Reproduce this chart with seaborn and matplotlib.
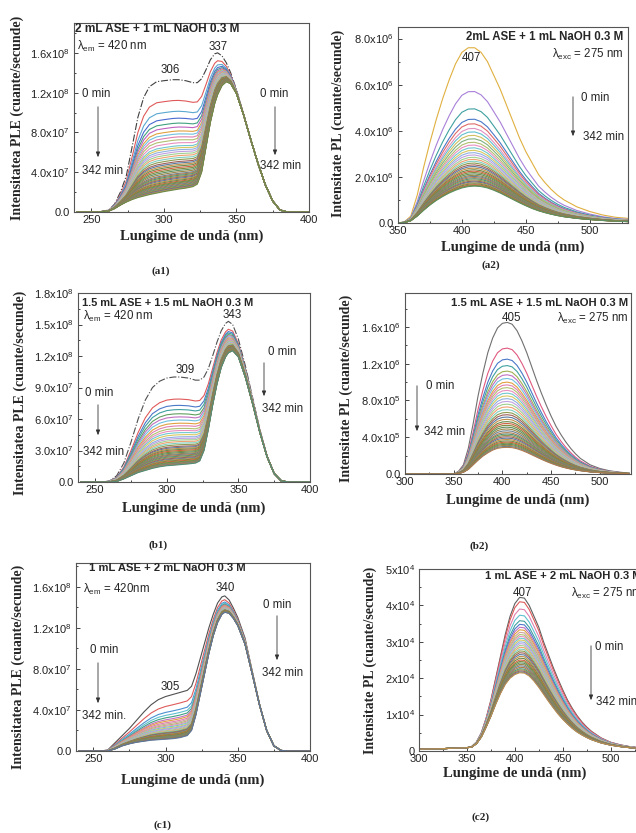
import numpy as np
import pandas as pd
import matplotlib
matplotlib.use('Agg')
import matplotlib.pyplot as plt
import seaborn as sns
from matplotlib.ticker import MultipleLocator

W, H = 636, 833
sns.set_style('white')
plt.rcParams['font.family'] = ['Liberation Sans', 'DejaVu Sans']
plt.rcParams['mathtext.default'] = 'regular'

# ---------------- data ----------------
# (a1) PLE, units 1e7
a1_wl = [240, 255, 262, 266, 270, 274, 278, 282, 286, 290, 295, 300, 306, 310, 315, 320, 323, 326, 329, 332,
         335, 337, 340, 343, 346, 350, 355, 360, 365, 370, 375, 380, 385, 390, 400]
a1_top = [0, 0, 0.2, 0.8, 2.0, 3.6, 6.5, 9.5, 11.5, 12.6, 13.1, 13.2, 13.3, 13.3, 13.2, 13.0, 13.0, 13.4, 14.3, 15.3,
          15.9, 16.0, 15.7, 15.0, 14.0, 12.3, 9.8, 7.2, 4.8, 2.7, 1.1, 0.2, 0, 0, 0]
a1_bot = [0, 0, 0.1, 0.35, 0.7, 1.0, 1.25, 1.45, 1.6, 1.75, 1.9, 2.05, 2.2, 2.3, 2.4, 2.55, 2.8, 4.0, 6.5, 9.0,
          10.9, 11.8, 12.7, 13.1, 12.9, 11.9, 9.7, 7.2, 4.8, 2.7, 1.1, 0.2, 0, 0, 0]
a1_levels = [13.3, 11.2, 10.1, 9.4, 8.9, 8.5, 8.1, 7.8, 7.5, 7.2, 6.9, 6.6, 6.4, 6.2, 6.0, 5.8, 5.6, 5.4, 5.2, 5.0,
             4.85, 4.7, 4.55, 4.4, 4.25, 4.1, 3.95, 3.8, 3.7, 3.6, 3.5, 3.4, 3.3, 3.2, 3.1, 3.0, 2.92, 2.84, 2.76,
             2.68, 2.6, 2.52, 2.45, 2.38, 2.32, 2.26, 2.2]

# (a2) PL, units 1e6
a2_wl = [350, 355, 360, 365, 370, 375, 380, 385, 390, 395, 400, 405, 410, 415, 420, 425, 430, 435, 440, 445,
         450, 455, 460, 465, 470, 475, 480, 490, 500, 510, 520, 530]
a2_top = [0.0, 0.05, 0.3, 1.2, 2.4, 3.5, 4.5, 5.4, 6.2, 6.9, 7.4, 7.6, 7.6, 7.4, 7.0, 6.4, 5.8, 5.1, 4.4, 3.7,
          3.1, 2.6, 2.1, 1.75, 1.45, 1.2, 1.0, 0.7, 0.5, 0.35, 0.25, 0.2]
a2_bot = [0, 0.02, 0.1, 0.3, 0.55, 0.78, 0.98, 1.15, 1.3, 1.42, 1.52, 1.58, 1.6, 1.58, 1.52, 1.42, 1.3, 1.16, 1.02,
          0.88, 0.75, 0.63, 0.53, 0.45, 0.38, 0.32, 0.27, 0.2, 0.15, 0.11, 0.08, 0.06]
a2_levels = [7.6, 5.7, 4.95, 4.5, 4.3, 4.1, 3.95, 3.8, 3.65, 3.5, 3.38, 3.26, 3.15, 3.05, 2.95, 2.85, 2.76, 2.68,
             2.6, 2.52, 2.45, 2.38, 2.31, 2.25, 2.19, 2.13, 2.07, 2.02, 1.97, 1.92, 1.87, 1.82, 1.78, 1.74, 1.7,
             1.66, 1.63, 1.6]

# (b1) PLE, units 1e7
b1_wl = [240, 255, 260, 265, 270, 275, 280, 285, 290, 295, 300, 305, 309, 315, 320, 323, 326, 329, 332, 335,
         338, 341, 343, 346, 350, 355, 360, 365, 370, 375, 380, 385, 400]
b1_top = [0, 0, 0.1, 0.6, 1.8, 3.8, 6.0, 7.8, 9.0, 9.6, 9.9, 10.0, 10.0, 9.9, 9.7, 9.7, 10.0, 10.8, 12.0, 13.3,
          14.4, 15.1, 15.3, 15.0, 13.6, 11.0, 8.0, 5.0, 2.5, 0.8, 0.1, 0, 0]
b1_bot = [0, 0, 0, 0.05, 0.3, 0.6, 0.9, 1.1, 1.3, 1.45, 1.55, 1.6, 1.65, 1.72, 1.8, 2.0, 3.0, 5.0, 7.3, 9.3,
          10.9, 11.9, 12.3, 12.5, 11.9, 9.9, 7.4, 4.7, 2.4, 0.8, 0.1, 0, 0]
b1_levels = [10.0, 7.9, 7.3, 6.9, 6.5, 6.2, 5.9, 5.6, 5.35, 5.1, 4.9, 4.7, 4.5, 4.3, 4.15, 4.0, 3.85, 3.7, 3.55,
             3.4, 3.3, 3.2, 3.1, 3.0, 2.9, 2.8, 2.7, 2.62, 2.54, 2.46, 2.38, 2.3, 2.22, 2.15, 2.08, 2.01, 1.94,
             1.88, 1.82, 1.76, 1.7, 1.65]

# (b2) PL, units 1e5
b2_wl = [300, 340, 350, 355, 360, 365, 370, 375, 380, 385, 390, 395, 400, 405, 410, 415, 420, 425, 430, 435,
         440, 445, 450, 455, 460, 465, 470, 475, 480, 490, 500, 510, 520, 530]
b2_top = [0, 0, 0, 0.3, 1.0, 2.8, 5.5, 8.5, 11.0, 13.2, 14.8, 15.9, 16.4, 16.5, 16.3, 15.6, 14.5, 13.2, 11.7, 10.2,
          8.8, 7.5, 6.3, 5.2, 4.3, 3.5, 2.8, 2.2, 1.7, 1.0, 0.6, 0.35, 0.2, 0.1]
b2_bot = [0, 0, 0, 0.05, 0.2, 0.5, 1.0, 1.5, 1.95, 2.3, 2.6, 2.8, 2.88, 2.9, 2.87, 2.75, 2.57, 2.35, 2.1, 1.85,
          1.6, 1.37, 1.16, 0.97, 0.8, 0.66, 0.54, 0.44, 0.36, 0.23, 0.15, 0.1, 0.06, 0.04]
b2_levels = [16.5, 13.7, 12.5, 11.8, 11.2, 10.8, 10.4, 10.0, 9.7, 9.4, 9.1, 8.8, 8.5, 8.2, 7.9, 7.6, 7.3, 7.0,
             6.7, 6.45, 6.2, 5.95, 5.7, 5.5, 5.3, 5.1, 4.9, 4.7, 4.5, 4.35, 4.2, 4.05, 3.9, 3.75, 3.6, 3.47, 3.35,
             3.23, 3.12, 3.0, 2.9]

# (c1) PLE, units 1e7
c1_wl = [240, 255, 260, 265, 270, 275, 280, 285, 290, 295, 300, 305, 310, 315, 318, 321, 324, 327, 330, 333,
         336, 339, 341, 344, 347, 350, 355, 360, 365, 370, 375, 380, 385, 400]
c1_top = [0, 0, 0.1, 0.8, 1.5, 2.2, 3.0, 3.8, 4.5, 5.0, 5.3, 5.5, 5.7, 5.9, 6.3, 7.5, 9.0, 10.5, 12.0, 13.3,
          14.4, 15.0, 15.1, 14.7, 13.9, 13.0, 11.0, 7.8, 4.6, 2.0, 0.5, 0.05, 0, 0]
c1_bot = [0, 0, 0, 0.2, 0.5, 0.7, 0.85, 0.95, 1.05, 1.1, 1.15, 1.2, 1.3, 1.5, 2.0, 3.5, 5.5, 7.5, 9.5, 11.2,
          12.5, 13.3, 13.5, 13.4, 12.9, 12.2, 10.4, 7.5, 4.5, 2.0, 0.5, 0.05, 0, 0]
c1_levels = [5.5, 4.5, 3.9, 3.6, 3.35, 3.15, 3.0, 2.85, 2.72, 2.6, 2.5, 2.4, 2.3, 2.22, 2.14, 2.06, 1.98, 1.92,
             1.86, 1.8, 1.74, 1.68, 1.63, 1.58, 1.53, 1.48, 1.44, 1.4, 1.36, 1.32, 1.28, 1.24, 1.2]

# (c2) PL, units 1e3
c2_wl = [300, 320, 340, 350, 355, 360, 365, 370, 375, 380, 385, 390, 395, 400, 405, 410, 415, 420, 425, 430,
         435, 440, 445, 450, 455, 460, 465, 470, 475, 480, 490, 500, 510, 520, 530, 540]
c2_top = [0.5, 0.6, 0.8, 0.9, 1.2, 2.5, 5.0, 9.0, 14.0, 20.0, 26.0, 32.0, 37.0, 40.5, 42.2, 42.0, 40.0, 37.0, 34.0,
          30.0, 26.5, 23.0, 19.8, 16.8, 14.0, 11.7, 9.7, 8.0, 6.6, 5.4, 3.6, 2.4, 1.7, 1.2, 0.9, 0.7]
c2_bot = [0.5, 0.6, 0.8, 0.9, 1.1, 2.0, 3.8, 6.5, 9.5, 12.8, 15.8, 18.3, 20.0, 21.0, 21.5, 21.4, 20.6, 19.2, 17.5,
          15.6, 13.7, 11.9, 10.2, 8.7, 7.4, 6.2, 5.2, 4.4, 3.7, 3.1, 2.2, 1.6, 1.2, 0.9, 0.7, 0.5]
c2_levels = [42.2, 41.0, 39.0, 37.3, 35.8, 34.8, 34.0, 33.3, 32.6, 32.0, 31.5, 31.0, 30.5, 30.0, 29.5, 29.0, 28.5,
             28.0, 27.5, 27.0, 26.5, 26.0, 25.5, 25.0, 24.6, 24.2, 23.8, 23.4, 23.0, 22.6, 22.3, 22.0, 21.7, 21.5]

MID = ['#e890c0', '#70c8d0', '#d8c860', '#90b0e0', '#c0a0e0', '#a0d090', '#f0a070', '#80d0c0', '#d0a0a0', '#b0c070']
DENSE = ['#7f8a3c', '#5e8f62', '#9a8546', '#6d7f8f', '#b07a4a', '#4f8f78', '#8e9a50', '#a0605a', '#5a7aa0',
         '#c09048', '#6a8a4a', '#d06040']

fig = plt.figure(figsize=(W / 100, H / 100), dpi=100)
fig.patch.set_facecolor('white')


def add_ax(l, t, r, b):
    return fig.add_axes([l / W, 1 - b / H, (r - l) / W, (b - t) / H])


def ftext(x, y, s, **kw):
    kw.setdefault('fontsize', 8)
    kw.setdefault('va', 'center')
    return fig.text(x / W, 1 - y / H, s, **kw)


def farrow(x, y0, y1):
    fig.add_artist(matplotlib.patches.FancyArrowPatch((x / W, 1 - y0 / H), (x / W, 1 - y1 / H),
                                                      transform=fig.transFigure,
                                                      arrowstyle='-|>,head_length=3,head_width=1.2',
                                                      color='#333333', lw=0.6, mutation_scale=1))


def draw(ax, wl, top, bot, levels, scale, head, first_style='-'):
    top = np.asarray(top, float)
    bot = np.asarray(bot, float)
    rt, rb = levels[0], levels[-1]
    frames = []
    for k, v in enumerate(levels):
        f = (v - rb) / (rt - rb)
        frames.append(pd.DataFrame({'wl': wl, 'I': (bot + f * (top - bot)) * scale, 'curve': 'c%02d' % k}))
    df = pd.concat(frames, ignore_index=True)
    pal = []
    for k in range(len(levels)):
        if k < len(head):
            pal.append(head[k])
        elif k < 18:
            pal.append(MID[k % len(MID)])
        else:
            pal.append(DENSE[k % len(DENSE)])
    sns.lineplot(data=df, x='wl', y='I', hue='curve', palette=pal, legend=False, estimator=None,
                 sort=False, ax=ax, linewidth=0.8)
    if ax.lines:
        ax.lines[0].set_linestyle(first_style)


def style(ax, xlim, xt, ylim, yt, ylab, yminor):
    ax.set_xlim(*xlim)
    ax.set_ylim(*ylim)
    ax.set_xticks(xt)
    ax.set_xticklabels([str(v) for v in xt])
    ax.xaxis.set_minor_locator(MultipleLocator(25))
    ax.set_yticks(yt)
    ax.set_yticklabels(ylab)
    ax.yaxis.set_minor_locator(MultipleLocator(yminor))
    ax.tick_params(which='both', direction='in', top=False, right=False, left=True, bottom=True,
                   colors='#444444', labelcolor='#222222', labelsize=8, width=0.7)
    ax.tick_params(which='major', length=3)
    ax.tick_params(which='minor', length=1.5)
    ax.tick_params(axis='x', pad=2.5)
    ax.tick_params(axis='y', pad=3)
    for sp in ax.spines.values():
        sp.set_color('#555555')
        sp.set_linewidth(0.8)
    ax.set_xlabel('')
    ax.set_ylabel('')
    ax.set_facecolor('white')


serif = dict(family=['Liberation Serif', 'DejaVu Serif'], fontweight='bold')
XL = 10.5
YL = 10

# ---------------- (a1) ----------------
ax = add_ax(74, 23, 309, 212)
draw(ax, a1_wl, a1_top, a1_bot, a1_levels, 1e7,
     ['#404040', '#e05a5a', '#5aa8d0', '#4a6ad0', '#40a080', '#c060c0', '#e0a040', '#70c0e0', '#e080b0'], '-.')
style(ax, (238, 400), [250, 300, 350, 400], (0, 1.9e8), [0, 4e7, 8e7, 1.2e8, 1.6e8],
      ['0.0', '4.0x10$^{7}$', '8.0x10$^{7}$', '1.2x10$^{8}$', '1.6x10$^{8}$'], 2e7)
ftext(75, 29, '2 mL ASE + 1 mL NaOH 0.3 M', fontweight='bold', fontsize=8.6)
ftext(77, 46, 'λ$_{em}$ = 420 nm', fontsize=8.3)
ftext(170, 70, '306', ha='center', fontsize=8.3)
ftext(218, 47, '337', ha='center', fontsize=8.3)
ftext(82, 94, '0 min', fontsize=8.3)
farrow(98, 104, 160)
ftext(82, 171, '342 min', fontsize=8.3)
ftext(260, 94, '0 min', fontsize=8.3)
farrow(275, 104, 158)
ftext(260, 166, '342 min', fontsize=8.3)
ftext(192, 236, 'Lungime de undă (nm)', ha='center', fontsize=XL, **serif)
ftext(17, 118, 'Intensitatea PLE (cuante/secunde)', ha='center', rotation=90, fontsize=YL, **serif)
ftext(161, 271, '(a1)', ha='center', fontsize=8, **serif)

# ---------------- (a2) ----------------
ax = add_ax(398, 27, 628, 223)
draw(ax, a2_wl, a2_top, a2_bot, a2_levels, 1e6,
     ['#e0b040', '#a880d8', '#3fa0a0', '#4a78c8', '#e06a6a', '#e090c0', '#60c0d0', '#d0c060', '#80b080'])
style(ax, (350, 530), [350, 400, 450, 500], (0, 8.5e6), [0, 2e6, 4e6, 6e6, 8e6],
      ['0.0', '2.0x10$^{6}$', '4.0x10$^{6}$', '6.0x10$^{6}$', '8.0x10$^{6}$'], 1e6)
ftext(623, 37, '2mL ASE + 1 mL NaOH 0.3 M', ha='right', fontweight='bold', fontsize=8.3)
ftext(623, 54, 'λ$_{exc}$ = 275 nm', ha='right', fontsize=8.3)
ftext(471, 58, '407', ha='center', fontsize=8.3)
ftext(581, 98, '0 min', fontsize=8.3)
farrow(573, 94, 139)
ftext(583, 137, '342 min', fontsize=8.3)
ftext(513, 247, 'Lungime de undă (nm)', ha='center', fontsize=XL, **serif)
ftext(338, 123, 'Intensitate PL (cuante/secunde)', ha='center', rotation=90, fontsize=YL, **serif)
ftext(491, 265, '(a2)', ha='center', fontsize=8, **serif)

# ---------------- (b1) ----------------
ax = add_ax(78, 293, 310, 482)
draw(ax, b1_wl, b1_top, b1_bot, b1_levels, 1e7,
     ['#505050', '#e05a5a', '#4a78c8', '#3fa0a0', '#60a060', '#c070c0', '#70c0e0', '#e0a040', '#e080b0'], '-.')
style(ax, (238, 400), [250, 300, 350, 400], (0, 1.8e8), [0, 3e7, 6e7, 9e7, 1.2e8, 1.5e8, 1.8e8],
      ['0.0', '3.0x10$^{7}$', '6.0x10$^{7}$', '9.0x10$^{7}$', '1.2x10$^{8}$', '1.5x10$^{8}$', '1.8x10$^{8}$'],
      1.5e7)
ftext(82, 303, '1.5 mL ASE + 1.5 mL NaOH 0.3 M', fontweight='bold', fontsize=7.9)
ftext(83, 316, 'λ$_{em}$ = 420 nm', fontsize=8.3)
ftext(232, 315, '343', ha='center', fontsize=8.3)
ftext(185, 370, '309', ha='center', fontsize=8.3)
ftext(85, 393, '0 min', fontsize=8.3)
farrow(98, 402, 438)
ftext(83, 452, '342 min', fontsize=8.3)
ftext(268, 352, '0 min', fontsize=8.3)
farrow(264, 360, 399)
ftext(262, 409, '342 min', fontsize=8.3)
ftext(194, 508, 'Lungime de undă (nm)', ha='center', fontsize=XL, **serif)
ftext(20, 393, 'Intensitatea PLE (cuante/secunde)', ha='center', rotation=90, fontsize=YL, **serif)
ftext(158, 545, '(b1)', ha='center', fontsize=8, **serif)

# ---------------- (b2) ----------------
ax = add_ax(405, 293, 631, 474)
draw(ax, b2_wl, b2_top, b2_bot, b2_levels, 1e5,
     ['#707070', '#e05a80', '#4a78c8', '#3fa0a0', '#a0b050', '#c070c0', '#70c0e0', '#e0a040', '#e080b0'])
style(ax, (300, 532), [300, 350, 400, 450, 500], (0, 1.97e6), [0, 4e5, 8e5, 1.2e6, 1.6e6],
      ['0.0', '4.0x10$^{5}$', '8.0x10$^{5}$', '1.2x10$^{6}$', '1.6x10$^{6}$'], 2e5)
ftext(628, 303, '1.5 mL ASE + 1.5 mL NaOH 0.3 M', ha='right', fontweight='bold', fontsize=8.2)
ftext(628, 318, 'λ$_{exc}$ = 275 nm', ha='right', fontsize=8.3)
ftext(511, 318, '405', ha='center', fontsize=8.3)
ftext(426, 386, '0 min', fontsize=8.3)
farrow(417, 383, 434)
ftext(424, 432, '342 min', fontsize=8.3)
ftext(518, 500, 'Lungime de undă (nm)', ha='center', fontsize=XL, **serif)
ftext(346, 388, 'Intensitate PL (cuante/secunde)', ha='center', rotation=90, fontsize=YL, **serif)
ftext(479, 546, '(b2)', ha='center', fontsize=8, **serif)

# ---------------- (c1) ----------------
ax = add_ax(76, 563, 310, 751)
draw(ax, c1_wl, c1_top, c1_bot, c1_levels, 1e7,
     ['#505050', '#e05a5a', '#4a90d0', '#60c0d0', '#40a080', '#c070c0', '#e0a040', '#e080b0'])
style(ax, (238, 400), [250, 300, 350, 400], (0, 1.83e8), [0, 4e7, 8e7, 1.2e8, 1.6e8],
      ['0.0', '4.0x10$^{7}$', '8.0x10$^{7}$', '1.2x10$^{8}$', '1.6x10$^{8}$'], 2e7)
ftext(89, 568, '1 mL ASE + 2 mL NaOH 0.3 M', fontweight='bold', fontsize=8.1)
ftext(83, 589, 'λ$_{em}$ = 420nm', fontsize=8.3)
ftext(225, 588, '340', ha='center', fontsize=8.3)
ftext(170, 687, '305', ha='center', fontsize=8.3)
ftext(90, 650, '0 min', fontsize=8.3)
farrow(98, 660, 706)
ftext(82, 716, '342 min.', fontsize=8.3)
ftext(263, 605, '0 min', fontsize=8.3)
farrow(277, 613, 663)
ftext(262, 673, '342 min', fontsize=8.3)
ftext(193, 780, 'Lungime de undă (nm)', ha='center', fontsize=XL, **serif)
ftext(18, 667, 'Intensitatea PLE (cuante/secunde)', ha='center', rotation=90, fontsize=YL, **serif)
ftext(163, 825, '(c1)', ha='center', fontsize=8, **serif)

# ---------------- (c2) ----------------
ax = add_ax(419, 569, 649, 751)
draw(ax, c2_wl, c2_top, c2_bot, c2_levels, 1e3,
     ['#606060', '#e05a5a', '#e080b0', '#60c0d0', '#3fa0a0', '#4a78c8', '#c070c0', '#e0a040'])
style(ax, (300, 540), [300, 350, 400, 450, 500], (0, 5e4), [0, 1e4, 2e4, 3e4, 4e4, 5e4],
      ['0', '1x10$^{4}$', '2x10$^{4}$', '3x10$^{4}$', '4x10$^{4}$', '5x10$^{4}$'], 5e3)
ftext(485, 576, '1 mL ASE + 2 mL NaOH 0.3 M', fontweight='bold', fontsize=8.1)
ftext(571, 593, 'λ$_{exc}$ = 275 nm', fontsize=8.3)
ftext(522, 593, '407', ha='center', fontsize=8.3)
ftext(595, 647, '0 min', fontsize=8.3)
farrow(591, 643, 703)
ftext(596, 702, '342 min', fontsize=8.3)
ftext(515, 773, 'Lungime de undă (nm)', ha='center', fontsize=XL, **serif)
ftext(370, 660, 'Intensitate PL (cuante/secunde)', ha='center', rotation=90, fontsize=YL, **serif)
ftext(481, 817, '(c2)', ha='center', fontsize=8, **serif)

fig.savefig('out.png', dpi=100, facecolor='white')
